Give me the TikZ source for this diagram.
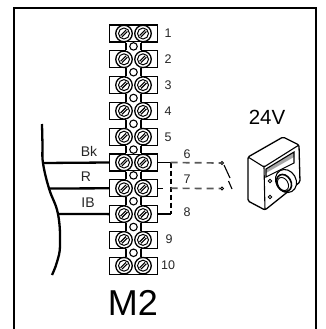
\documentclass[tikz,border=0pt]{standalone}
\usepackage{fontspec}
\setmainfont{Liberation Sans}
\usetikzlibrary{calc}
\tikzset{
 block/.style={draw,line width=1.2pt,fill=white,minimum width=48pt,minimum height=17pt,inner sep=0pt},
 screw/.style={draw,circle,line width=1.3pt,fill=white,minimum size=16.5pt,inner sep=0pt},
 hole/.style={draw,circle,line width=1.1pt,fill=white,minimum size=7.5pt,inner sep=0pt},
 contact/.style={draw,circle,line width=0.8pt,fill=white,minimum size=3pt,inner sep=0pt},
 wire/.style={line width=2.3pt},
 dashline/.style={line width=1.7pt,gray!70!black,dash pattern=on 7pt off 5pt},
 lbl/.style={font=\fontsize{12.5}{12.5}\selectfont,text=black!85,inner sep=0pt},
 tag/.style={font=\fontsize{14}{14}\selectfont,text=black!85,inner sep=0pt},
}
\begin{document}
\begin{tikzpicture}[x=1pt,y=-1pt]
\useasboundingbox(0,0)rectangle(325,329);
\draw[line width=2pt](14,329)--(14,8)--(316,8)--(316,329);
%
\foreach \n in {1,...,10}{
\pgfmathsetmacro\ypos{33.5+25.8*(\n-1)}
\node[block](t\n)at(133.5,\ypos){};
}
\foreach \n [count=\m from 2] in {1,...,9}{
\path[fill=white]([xshift=-7.5pt,yshift=1pt]t\n.south)rectangle([xshift=7.5pt,yshift=-1pt]t\m.north);
\draw[line width=1.2pt]([xshift=-7.5pt]t\n.south)--([xshift=-7.5pt]t\m.north);
\draw[line width=1.2pt]([xshift=7.5pt]t\n.south)--([xshift=7.5pt]t\m.north);
\node[hole](h\n)at($(t\n)!0.5!(t\m)$){};
}
\foreach \n in {1,...,10}{
\foreach \s/\dx in {a/-9.5,b/9.5}{
\node[screw](s\n\s)at([xshift=\dx pt]t\n.center){};
\node[draw,circle,line width=1pt,minimum size=11pt,inner sep=0pt](c\n\s)at(s\n\s){};
\draw[line width=1.1pt]([shift={(-3.4,2.0)}]s\n\s.center)--([shift={(2.0,-3.4)}]s\n\s.center);
\draw[line width=1.1pt]([shift={(-2.0,3.4)}]s\n\s.center)--([shift={(3.4,-2.0)}]s\n\s.center);
}
}
\foreach \n/\xpos/\ypos in {1/168/33,2/168/59,3/168/85,4/168/111,5/168/137,6/187/154,7/187/179,8/187/212,9/169/239,10/168/265}
\node[lbl]at(\xpos,\ypos){\n};
%
\coordinate(w0)at(42,124);
\coordinate(w1)at(43,163);
\coordinate(w2)at(49,188.5);
\coordinate(w3)at(58,214);
\coordinate(w4)at(60,245);
\coordinate(w5)at(52,275);
\draw[wire]plot[smooth,tension=0.7]coordinates{(w0)(42.5,145)(w1)(w2)(w3)(w4)(57,262)(w5)};
\draw[wire](w1)--(t6.west);
\draw[wire](w2)--(t7.west);
\draw[wire](w3)--(t8.west);
\node[tag]at(89,151){Bk};
\node[tag]at(86,177){R};
\node[tag]at(88,203){IB};
%
\coordinate(j6)at([xshift=12.5pt]t6.east);
\coordinate(j7)at([xshift=12.5pt]t7.east);
\coordinate(j8)at([xshift=12.5pt]t8.east);
\node[contact](k6)at(222,163){};
\node[contact](k7)at(222,188.5){};
\coordinate(b1)at(224,165);
\coordinate(b2)at(230,178);
\coordinate(b3)at(228.5,181);
\coordinate(b4)at(232,189);
\draw[line width=1.8pt](t6.east)--(j6);
\draw[line width=1.4pt](t8.east)--(j8);
\draw[line width=1pt](t7.east)--++(5,0);
\draw[line width=1.9pt,dash pattern=on 5pt off 3pt](j6)--(j8);
\draw[dashline](j6)--(k6);
\draw[dashline](j7)--(k7);
\draw[line width=1.1pt](b1)--(b2);
\draw[line width=1.1pt](b3)--(b4);
%
\node[inner sep=0pt,font=\fontsize{20.5}{20.5}\selectfont]at(267,117){24V};
\node[inner sep=0pt,font=\fontsize{36}{36}\selectfont]at(133,303){M2};
%
\coordinate(d1)at(248,157);
\coordinate(d2)at(283,137);
\coordinate(d3)at(299,145);
\coordinate(d4)at(300,182);
\coordinate(d5)at(265,210);
\coordinate(d6)at(248,201);
\coordinate(d7)at(264,167);
\draw[line width=1.3pt,line join=round,rounded corners=1.5pt](d1)--(d2)--(d3)--(d4)--(d5)--(d6)--cycle;
\draw[line width=1.1pt,rounded corners=1.5pt](d1)--(d7)--(d3);
\draw[line width=1.1pt](d7)--(d5);
\fill[gray!70](266,173)--(294,157)--(294,152)--(266,169)--cycle;
\draw[line width=1.1pt](266,169)--(294,152)--(294,163)--(266,177)--cycle;
\node[draw,circle,line width=1pt,minimum size=3.5pt,inner sep=0pt](l1)at(270,181){};
\node[draw,circle,line width=1pt,minimum size=3.5pt,inner sep=0pt](l2)at(270,197){};
\draw[line width=1.1pt,fill=white,rotate around={30:(286,181)}](286,181)ellipse(10 and 12);
\draw[line width=1.6pt,fill=white,rotate around={30:(284,183)}](284,183)ellipse(7 and 9);
\draw[line width=0.9pt,fill=white,rotate around={30:(283,184)}](283,184)ellipse(5 and 7);
\end{tikzpicture}
\end{document}
